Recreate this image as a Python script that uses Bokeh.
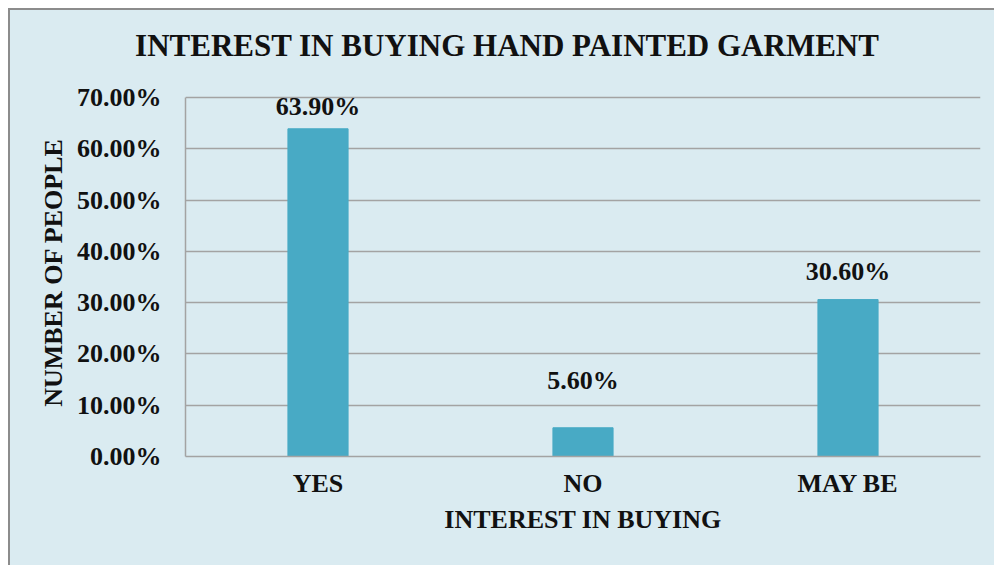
from bokeh.plotting import figure
from bokeh.models import ColumnDataSource, NumeralTickFormatter, FixedTicker, Div
from bokeh.layouts import column
from bokeh.core.properties import value
from bokeh.embed import file_html
from bokeh.resources import INLINE

# ---- data ----
categories = ["YES", "NO", "MAY BE"]
shares = [0.639, 0.056, 0.306]
share_labels = ["63.90%", "5.60%", "30.60%"]
y_ticks = [0.0, 0.1, 0.2, 0.3, 0.4, 0.5, 0.6, 0.7]
y_axis_max = 0.7

title_text = "INTEREST IN BUYING HAND PAINTED GARMENT"
x_title = "INTEREST IN BUYING"
y_title = "NUMBER OF PEOPLE"

# style-only offsets of the value labels (px above bar top)
label_offsets = [-22, -47, -28]

FONT = "Liberation Serif"
BG = "#DAEBF1"
BAR = "#48AAC5"
GRID = "#A3A3A3"
EDGE = "2px solid #8c8c8c"

# layout (px): frame is 368 px tall, the gridded part (0..0.7) fills its lower 359 px
FRAME_H = 368
GRID_H = 359
y_end = y_axis_max * FRAME_H / GRID_H

src = ColumnDataSource(dict(cat=categories, val=shares, lab=share_labels, off=label_offsets))

# ---- title block ----
title_div = Div(
    text=('<div style="width:984px; padding-top:20px; text-align:center; position:relative; left:5px; '
          'font-family:\'Liberation Serif\'; font-weight:bold; font-size:31px; line-height:31px; '
          'color:#111111; white-space:nowrap;">' + title_text + '</div>'),
    width=986, height=70,
    styles={"border-top": EDGE, "border-left": EDGE, "background-color": BG,
            "box-sizing": "border-box", "margin": "0", "padding": "0"},
)

# ---- chart ----
p = figure(
    x_range=categories, y_range=(0, y_end),
    width=986, height=487, title_location=None,
    output_backend="svg", toolbar_location=None,
    min_border_left=175, min_border_right=16, min_border_top=10, min_border_bottom=109,
)
p.styles = {"border-left": EDGE, "background-color": BG}

p.background_fill_color = BG
p.border_fill_color = BG
p.outline_line_color = None

p.vbar(x="cat", top="val", width=0.227, source=src, fill_color=BAR, line_color=BAR)
p.text(x="cat", y="val", text="lab", source=src, y_offset="off",
       text_align="center", text_baseline="alphabetic",
       text_font=value(FONT), text_font_style="bold", text_font_size="26px",
       text_color="#111111")

# y axis
ya = p.yaxis[0]
ya.ticker = FixedTicker(ticks=y_ticks)
ya.bounds = (0, y_axis_max)
ya.formatter = NumeralTickFormatter(format="0.00%")
ya.major_tick_line_color = None
ya.minor_tick_line_color = None
ya.major_tick_out = 0
ya.major_label_standoff = 24
ya.major_label_text_font = FONT
ya.major_label_text_font_style = "bold"
ya.major_label_text_font_size = "26px"
ya.major_label_text_color = "#111111"
ya.axis_line_color = GRID
ya.axis_line_width = 1.5
ya.axis_label = y_title
ya.axis_label_text_font = FONT
ya.axis_label_text_font_style = "bold"
ya.axis_label_text_font_size = "26px"
ya.axis_label_text_color = "#111111"
ya.axis_label_standoff = 6

# x axis
xa = p.xaxis[0]
xa.major_tick_line_color = None
xa.minor_tick_line_color = None
xa.major_tick_out = 0
xa.major_label_standoff = 12
xa.major_label_text_font = FONT
xa.major_label_text_font_style = "bold"
xa.major_label_text_font_size = "26px"
xa.major_label_text_color = "#111111"
xa.axis_line_color = GRID
xa.axis_line_width = 1.5
xa.axis_label = x_title
xa.axis_label_text_font = FONT
xa.axis_label_text_font_style = "bold"
xa.axis_label_text_font_size = "26px"
xa.axis_label_text_color = "#111111"
xa.axis_label_standoff = 4

p.xgrid.grid_line_color = None
p.ygrid.grid_line_color = GRID
p.ygrid.grid_line_width = 1.5
p.x_range.range_padding = 0

layout = column(title_div, p, spacing=0,
                styles={"margin-left": "8px", "margin-top": "8px", "background-color": BG})

open("out.html", "w").write(file_html(layout, INLINE))
